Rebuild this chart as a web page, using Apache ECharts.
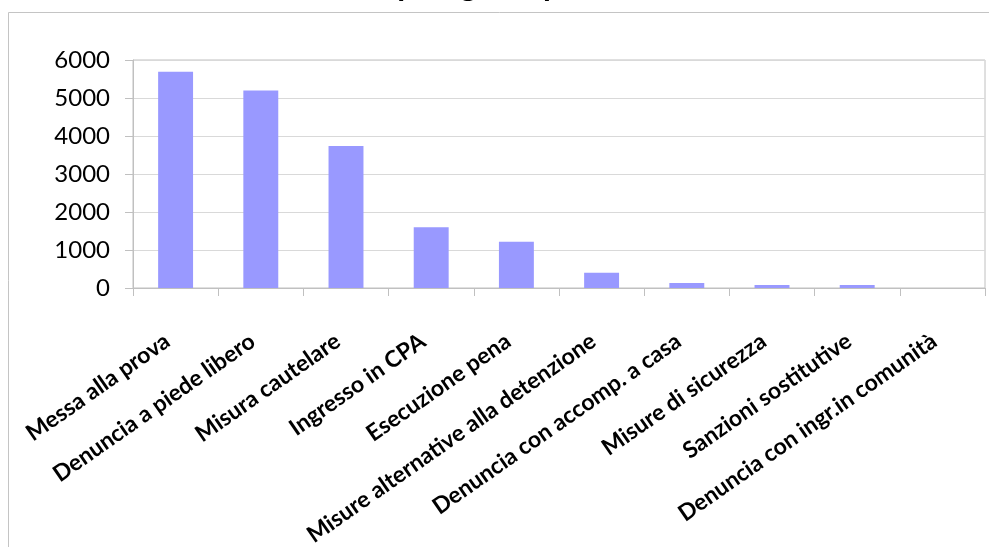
<!DOCTYPE html>
<html>
<head>
<meta charset="utf-8">
<script src="https://cdn.jsdelivr.net/npm/echarts@6/dist/echarts.min.js"></script>
<style>
  html, body { margin: 0; padding: 0; background: #fff; }
  #chart { width: 989px; height: 547px; }
</style>
</head>
<body>
<div id="chart"></div>
<script>
// Provvedimenti per tipologia
const categories = [
  'Messa alla prova',
  'Denuncia a piede libero',
  'Misura cautelare',
  'Ingresso in CPA',
  'Esecuzione pena',
  'Misure alternative alla detenzione',
  'Denuncia con accomp. a casa',
  'Misure di sicurezza',
  'Sanzioni sostitutive',
  'Denuncia con ingr.in comunità'
];
const values = [5690, 5200, 3740, 1600, 1220, 400, 130, 80, 80, 0];
const yTicks = [0, 1000, 2000, 3000, 4000, 5000, 6000];

const chart = echarts.init(document.getElementById('chart'));
chart.setOption({
  animation: false,
  backgroundColor: '#ffffff',
  graphic: [
    {
      type: 'rect',
      shape: { x: 8.5, y: 12.5, width: 1000, height: 600 },
      style: { fill: 'none', stroke: '#c4c4c4', lineWidth: 1 },
      silent: true
    },
    {
      type: 'text',
      left: 370,
      top: -30,
      style: {
        text: 'Tipologia di provvedimento',
        font: 'bold 32px Lato',
        fill: '#000'
      },
      silent: true
    }
  ],
  grid: {
    left: 133,
    right: 4,
    top: 60,
    bottom: 259,
    show: true,
    borderColor: '#c0c0c0',
    borderWidth: 1,
    containLabel: false,
    outerBoundsMode: 'none'
  },
  xAxis: {
    type: 'category',
    data: categories,
    axisLine: { show: true, lineStyle: { color: '#c0c0c0', width: 1 } },
    axisTick: { show: true, length: 8, lineStyle: { color: '#c0c0c0' } },
    axisLabel: {
      interval: 0,
      rotate: 35,
      margin: 45,
      padding: [0, 10, 0, 0],
      color: '#000',
      fontFamily: 'Lato',
      fontWeight: 'bold',
      fontSize: 23
    }
  },
  yAxis: {
    type: 'value',
    min: yTicks[0],
    max: yTicks[yTicks.length - 1],
    interval: yTicks[1] - yTicks[0],
    axisLine: { show: true, lineStyle: { color: '#c0c0c0', width: 1 } },
    axisTick: { show: true, length: 8, lineStyle: { color: '#c0c0c0' } },
    splitLine: { show: true, lineStyle: { color: '#d9d9d9', width: 1 } },
    axisLabel: {
      margin: 23,
      color: '#000',
      fontFamily: 'Lato',
      fontSize: 24,
      formatter: (v) => String(v)
    }
  },
  series: [{
    type: 'bar',
    data: values,
    barWidth: '41%',
    itemStyle: { color: '#9999ff' }
  }]
});
</script>
</body>
</html>
